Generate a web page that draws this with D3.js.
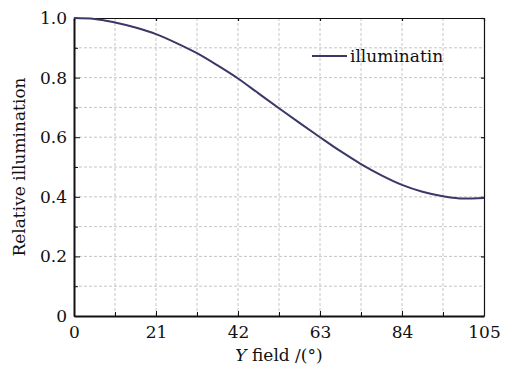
<!DOCTYPE html>
<html>
<head>
<meta charset="utf-8">
<script src="https://cdn.jsdelivr.net/npm/d3@7"></script>
<style>
  body { margin: 0; background: #fff; }
  text { font-family: "DejaVu Serif", serif; fill: #111; }
  .grid line { stroke: #b8b8b8; stroke-width: 0.8; stroke-dasharray: 3,2; }
  .axis path, .axis line { stroke: #111; }
</style>
</head>
<body>
<div id="chart"></div>
<script>
// field angle (deg) and relative illumination
var field = [0, 5.25, 10.5, 15.75, 21, 26.25, 31.5, 36.75, 42, 47.25, 52.5,
             57.75, 63, 68.25, 73.5, 78.75, 84, 89.25, 94.5, 99.75, 105];
var illum = [1.0, 0.997, 0.985, 0.968, 0.946, 0.916, 0.882, 0.841, 0.797, 0.747, 0.697,
             0.648, 0.600, 0.553, 0.510, 0.472, 0.440, 0.417, 0.402, 0.394, 0.396];
var xTicks = [0, 21, 42, 63, 84, 105];
var xMinor = [10.5, 31.5, 52.5, 73.5, 94.5];
var yTicks = [0, 0.2, 0.4, 0.6, 0.8, 1.0];
var yMinor = [0.1, 0.3, 0.5, 0.7, 0.9];
var seriesName = "illuminatin";

var width = 517, height = 371;
var margin = {top: 18, right: 33, bottom: 55, left: 74};
var graphWidth = width - margin.left - margin.right;
var graphHeight = height - margin.top - margin.bottom;

var data = field.map(function(f, i) { return {f: f, v: illum[i]}; });

var svg = d3.select("#chart")
  .append("svg")
  .attr("width", width)
  .attr("height", height)
  .append("g")
  .attr("transform", "translate(" + margin.left + "," + margin.top + ")");

var x = d3.scaleLinear().domain([0, 105]).range([0, graphWidth]);
var y = d3.scaleLinear().domain([0, 1]).range([graphHeight, 0]);

// dashed grid, major and minor
var allX = xTicks.concat(xMinor).filter(function(d) { return d > 0 && d < 105; });
var allY = yTicks.concat(yMinor).filter(function(d) { return d > 0 && d < 1; });

var grid = svg.append("g").attr("class", "grid");
grid.selectAll(".gx").data(allX).enter().append("line")
  .attr("x1", function(d) { return x(d); })
  .attr("x2", function(d) { return x(d); })
  .attr("y1", 0).attr("y2", graphHeight);
grid.selectAll(".gy").data(allY).enter().append("line")
  .attr("y1", function(d) { return y(d); })
  .attr("y2", function(d) { return y(d); })
  .attr("x1", 0).attr("x2", graphWidth);

// minor ticks (inward)
svg.append("g")
  .attr("class", "axis")
  .attr("transform", "translate(0," + graphHeight + ")")
  .call(d3.axisBottom(x).tickValues(xMinor).tickSize(-4).tickFormat(""))
  .select(".domain").remove();
svg.append("g")
  .attr("class", "axis")
  .call(d3.axisLeft(y).tickValues(yMinor).tickSize(-4).tickFormat(""))
  .select(".domain").remove();

// top and right frame
svg.append("g")
  .attr("class", "axis")
  .call(d3.axisTop(x).tickValues(xTicks).tickSizeInner(-3).tickSizeOuter(0).tickFormat(""))
  .selectAll("path, line").attr("stroke-width", 1.2);
svg.append("g")
  .attr("class", "axis")
  .attr("transform", "translate(" + graphWidth + ",0)")
  .call(d3.axisRight(y).tickValues(yTicks).tickSizeInner(-3).tickSizeOuter(0).tickFormat(""))
  .selectAll("path, line").attr("stroke-width", 1.2);

// x axis
var xAxis = svg.append("g")
  .attr("class", "axis")
  .attr("transform", "translate(0," + graphHeight + ")")
  .call(d3.axisBottom(x)
    .tickValues(xTicks)
    .tickSizeInner(-5)
    .tickSizeOuter(0)
    .tickPadding(10)
    .tickFormat(d3.format("d")));
xAxis.select(".domain").attr("stroke-width", 2);
xAxis.selectAll("text").style("font-size", "17px").attr("fill", "#111");

// y axis
var yAxis = svg.append("g")
  .attr("class", "axis")
  .call(d3.axisLeft(y)
    .tickValues(yTicks)
    .tickSizeInner(-6)
    .tickSizeOuter(0)
    .tickPadding(7)
    .tickFormat(function(d) { return d === 0 ? "0" : d3.format(".1f")(d); }));
yAxis.select(".domain").attr("stroke-width", 2);
yAxis.selectAll("text").style("font-size", "17px").attr("fill", "#111");

// curve
var line = d3.line()
  .x(function(d) { return x(d.f); })
  .y(function(d) { return y(d.v); })
  .curve(d3.curveMonotoneX);

svg.append("path")
  .datum(data)
  .attr("fill", "none")
  .attr("stroke", "#3a3866")
  .attr("stroke-width", 2)
  .attr("d", line);

// legend
svg.append("line")
  .attr("x1", 238).attr("x2", 273)
  .attr("y1", 38).attr("y2", 38)
  .attr("stroke", "#3a3866")
  .attr("stroke-width", 2);
svg.append("text")
  .attr("x", 276)
  .attr("y", 44)
  .style("font-size", "17px")
  .text(seriesName);

// axis labels
svg.append("text")
  .attr("transform", "rotate(-90)")
  .attr("x", 0 - graphHeight / 2)
  .attr("y", 0 - margin.left + 25)
  .style("text-anchor", "middle")
  .style("font-size", "17px")
  .text("Relative illumination");

var xl = svg.append("text")
  .attr("x", graphWidth / 2)
  .attr("y", graphHeight + 45)
  .style("text-anchor", "middle")
  .style("font-size", "17px");
xl.append("tspan").style("font-style", "italic").text("Y");
xl.append("tspan").text(" field /(°)");
</script>
</body>
</html>
